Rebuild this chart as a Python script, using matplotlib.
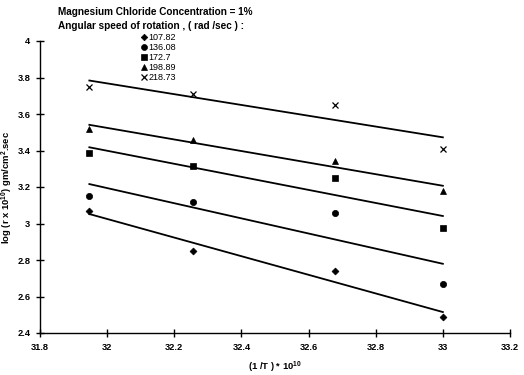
import numpy as np
import matplotlib
matplotlib.use('Agg')
import matplotlib.pyplot as plt

plt.rcParams['font.family'] = ['Liberation Sans', 'DejaVu Sans']
plt.rcParams['mathtext.fontset'] = 'custom'
plt.rcParams['mathtext.rm'] = 'Liberation Sans'
plt.rcParams['mathtext.bf'] = 'Liberation Sans:bold'

# inverse temperature (x 10^10)
inv_T = [31.947, 32.256, 32.678, 33.0]

# log rate for each angular speed (rad/sec)
speeds = ['107.82', '136.08', '172.7', '198.89', '218.73']
rate_107 = [3.067, 2.847, 2.739, 2.487]
rate_136 = [3.150, 3.119, 3.057, 2.670]
rate_172 = [3.385, 3.314, 3.247, 2.976]
rate_198 = [3.520, 3.458, 3.341, 3.180]
rate_218 = [3.747, 3.707, 3.652, 3.409]

series = [rate_107, rate_136, rate_172, rate_198, rate_218]
markers = [('D', 3.5), ('o', 4.5), ('s', 4.5), ('^', 4.5), ('x', 4.5)]

fig = plt.figure(figsize=(5.24, 3.75), dpi=100)
ax = fig.add_axes([40 / 524, 1 - 333 / 375, 470 / 524, 292 / 375])

x = np.array(inv_T)
handles = []
for vals, (m, ms), lab in zip(series, markers, speeds):
    h, = ax.plot(x, vals, linestyle='none', marker=m, markersize=ms,
                 color='black', markeredgewidth=0.9 if m == 'x' else 0.5,
                 label=lab)
    handles.append(h)
    # least squares trend line over the measured range
    k, b = np.polyfit(x, vals, 1)
    ax.plot(x[[0, -1]], k * x[[0, -1]] + b, color='black', linewidth=1.3)

ax.set_xlim(31.8, 33.2)
ax.set_ylim(2.4, 4.0)
ax.set_xticks(np.arange(31.8, 33.21, 0.2))
ax.set_xticklabels(['31.8', '32', '32.2', '32.4', '32.6', '32.8', '33', '33.2'])
ax.set_yticks(np.arange(2.4, 4.01, 0.2))
ax.set_yticklabels(['2.4', '2.6', '2.8', '3', '3.2', '3.4', '3.6', '3.8', '4'])

for s in ['top', 'right']:
    ax.spines[s].set_visible(False)
for s in ['left', 'bottom']:
    ax.spines[s].set_linewidth(1.0)
ax.tick_params(direction='inout', length=6, width=1.0, labelsize=6.7, pad=4)
for lbl in ax.get_xticklabels() + ax.get_yticklabels():
    lbl.set_fontweight('bold')

ax.set_xlabel('(1 /T ) * 10$^{\\mathbf{10}}$', fontsize=6.8, fontweight='bold',
              labelpad=6)
ax.set_ylabel('log (r x 10$^{\\mathbf{10}}$) gm/cm$^{\\mathbf{2}}$.sec',
              fontsize=6.8, fontweight='bold', labelpad=1.5)

fig.text(58 / 524, 1 - 12 / 375, 'Magnesium Chloride Concentration = 1%',
         fontsize=7.2, fontweight='bold', va='center', ha='left')
fig.text(58 / 524, 1 - 26 / 375, 'Angular speed of rotation , ( rad /sec ) :',
         fontsize=7.2, fontweight='bold', va='center', ha='left')

fig.legend(handles=handles, loc='upper left',
           bbox_to_anchor=(141 / 524, 1 - 33 / 375), frameon=False,
           fontsize=6.5, handlelength=0.6, handletextpad=0.2,
           labelspacing=0.12, borderpad=0, borderaxespad=0,
           markerscale=0.95)

fig.savefig('out.png', dpi=100)
